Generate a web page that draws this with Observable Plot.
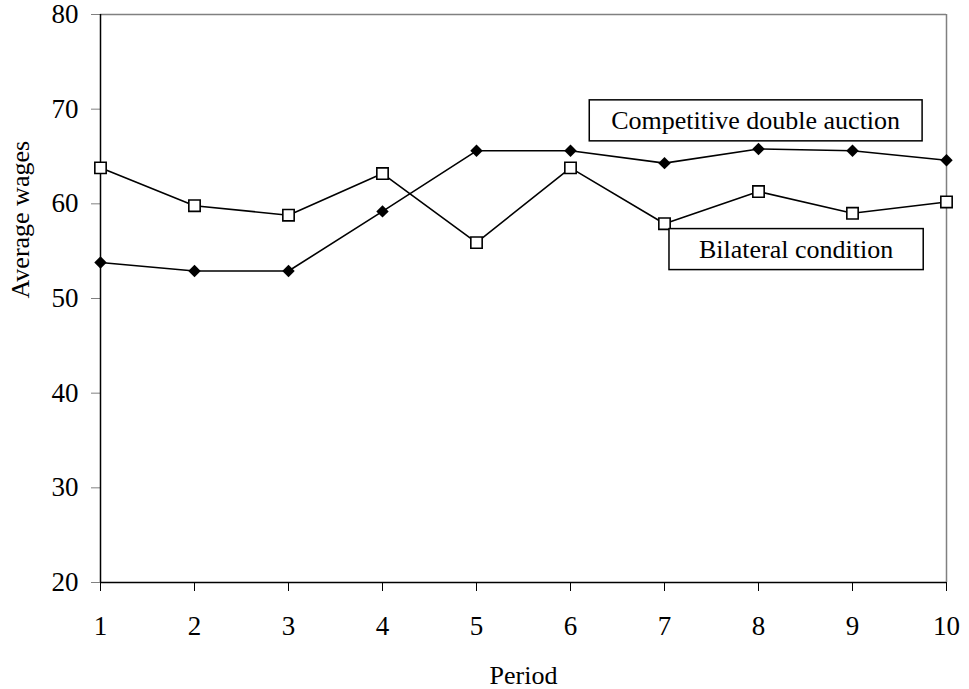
<!DOCTYPE html>
<html>
<head>
<meta charset="utf-8">
<script src="https://cdn.jsdelivr.net/npm/d3@7"></script>
<script src="https://cdn.jsdelivr.net/npm/@observablehq/plot@0.6"></script>
<style>
  body { margin: 0; background: #fff; }
</style>
</head>
<body>
<div id="chart"></div>
<script>
const periods = [1, 2, 3, 4, 5, 6, 7, 8, 9, 10];
const competitive = [53.8, 52.9, 52.9, 59.2, 65.6, 65.6, 64.3, 65.8, 65.6, 64.6];
const bilateral = [63.8, 59.8, 58.8, 63.2, 55.9, 63.8, 57.9, 61.3, 59.0, 60.2];
const yTicks = [20, 30, 40, 50, 60, 70, 80];
const seriesNames = ["Competitive double auction", "Bilateral condition"];

const compData = periods.map((p, i) => ({period: p, value: competitive[i]}));
const bilData = periods.map((p, i) => ({period: p, value: bilateral[i]}));

const fs = 26;
const tfs = 27;
const serif = "Liberation Serif";
const chart = Plot.plot({
  width: 969,
  height: 689,
  marginLeft: 100,
  marginRight: 23,
  marginTop: 14,
  marginBottom: 107,
  style: "font-family: 'Liberation Serif', serif; background: #fff; overflow: visible;",
  x: {domain: [1, 10]},
  y: {domain: [20, 80]},
  marks: [
    Plot.ruleY([80], {stroke: "#808080", strokeWidth: 1.5}),
    Plot.ruleX([10], {stroke: "#808080", strokeWidth: 1.5}),
    Plot.axisY({ticks: yTicks, tickSize: 9, tickPadding: 13, fontSize: tfs, stroke: "#808080", strokeOpacity: 1, color: "#000", label: null}),
    Plot.axisX({ticks: periods, tickSize: 9, tickPadding: 24, fontSize: tfs, strokeOpacity: 1, color: "#000", label: null}),
    Plot.ruleX([1], {stroke: "#000", strokeWidth: 1.5}),
    Plot.ruleY([20], {stroke: "#000", strokeWidth: 1.5}),
    Plot.line(compData, {x: "period", y: "value", stroke: "#000", strokeWidth: 1.6}),
    Plot.line(bilData, {x: "period", y: "value", stroke: "#000", strokeWidth: 1.6}),
    Plot.dot(compData, {x: "period", y: "value", symbol: "diamond2", r: 5.6, fill: "#000", stroke: "none"}),
    Plot.dot(bilData, {x: "period", y: "value", symbol: "square", r: 6.4, fill: "#fff", stroke: "#000", strokeWidth: 1.6}),
    Plot.text([seriesNames[0]], {x: 7.97, y: 68.8, text: d => d, fontSize: fs, fill: "#000", className: "boxed-label-a"}),
    Plot.text([seriesNames[1]], {x: 8.4, y: 55.2, text: d => d, fontSize: fs, fill: "#000", className: "boxed-label-b"}),
    Plot.text(["Average wages"], {frameAnchor: "left", dx: -80, text: d => d, rotate: -90, fontSize: fs, fill: "#000"}),
    Plot.text(["Period"], {frameAnchor: "bottom", lineAnchor: "middle", dy: 93, text: d => d, fontSize: fs, fill: "#000"})
  ]
});
document.getElementById("chart").appendChild(chart);

// Force the serif font on every text element
d3.select(chart).selectAll("g, text").each(function() {
  this.setAttribute("font-family", serif);
  this.style.setProperty("font-family", "'Liberation Serif', serif", "important");
});

// Draw frames around the series labels
function frame(cls, padX) {
  d3.select(chart).selectAll(`g.${cls} text`).each(function() {
    const bb = this.getBBox();
    const padY = 7;
    d3.select(this.parentNode).insert("rect", () => this)
      .attr("x", bb.x - padX)
      .attr("y", bb.y - padY + 1)
      .attr("width", bb.width + 2 * padX)
      .attr("height", bb.height + 2 * padY - 2)
      .attr("fill", "#fff")
      .attr("stroke", "#000")
      .attr("stroke-width", 1.5)
      .attr("transform", this.getAttribute("transform"));
  });
}
frame("boxed-label-a", 22);
frame("boxed-label-b", 30);
</script>
</body>
</html>
